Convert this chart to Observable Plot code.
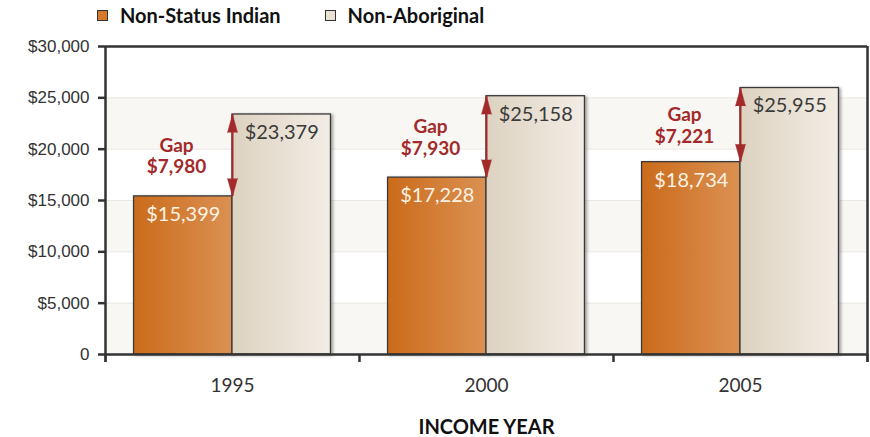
<!DOCTYPE html>
<html>
<head>
<meta charset="utf-8">
<script src="https://cdn.jsdelivr.net/npm/d3@7"></script>
<script src="https://cdn.jsdelivr.net/npm/@observablehq/plot@0.6"></script>
<style>
  body { margin: 0; background: #fff; font-family: Lato, "Noto Sans", sans-serif; }
  #legend { height: 30px; display: flex; align-items: center; padding-left: 97px; font-weight: bold; font-size: 20px; color: #111; }
  #legend .item { display: flex; align-items: center; margin-right: 44px; }
  #legend .sw { width: 9px; height: 9px; border: 1px solid #333; margin-right: 12px; }
  #chart svg { overflow: visible; }
  g[aria-label="fx-axis label"] text { font-weight: bold; fill: #111; }
  .bars rect { filter: drop-shadow(2px 1px 1.5px rgba(0,0,0,0.35)); }
</style>
</head>
<body>
<div id="legend"></div>
<div id="chart"></div>
<script>
// ---- data ----
const years = ["1995", "2000", "2005"];
const seriesNames = ["Non-Status Indian", "Non-Aboriginal"];
const nonStatusIndian = [15399, 17228, 18734];
const nonAboriginal = [23379, 25158, 25955];
const gapValues = [7980, 7930, 7221];
const yTicks = [0, 5000, 10000, 15000, 20000, 25000, 30000];
const xAxisTitle = "INCOME YEAR";

const seriesColors = ["#d47a2a", "#e8e0d2"];
const gradStops = [["#cb6b1b", "#db9152"], ["#ddd2c0", "#f2ede5"]];

// rows built from the arrays above
const rows = [];
years.forEach((y, k) => {
  rows.push({year: y, series: seriesNames[0], i: 0, value: nonStatusIndian[k]});
  rows.push({year: y, series: seriesNames[1], i: 1, value: nonAboriginal[k]});
});
const gapRows = years.map((y, k) => ({year: y, lo: nonStatusIndian[k], hi: nonAboriginal[k], gap: gapValues[k], edge: 1}));
const bands = yTicks.slice(0, -1).map((t, k) => ({y1: t, y2: yTicks[k + 1], k})).filter(d => d.k % 2 === 0);

// legend
const legend = d3.select("#legend");
seriesNames.forEach((s, k) => {
  const it = legend.append("div").attr("class", "item");
  it.append("div").attr("class", "sw").style("background", seriesColors[k]);
  it.append("span").text(s);
});

const fmt = d3.format(",");
const money = d => "$" + fmt(d);
const xpad = 0.29;
const red = "#a32a2a";
const yMax = yTicks[yTicks.length - 1];
const edges = [
  {year: years[0], x: -xpad},
  {year: years[years.length - 1], x: 2 + xpad}
];

const chart = Plot.plot({
  width: 870,
  height: 407,
  marginTop: 16,
  marginBottom: 83,
  marginLeft: 104,
  marginRight: 3,
  style: {fontFamily: "Lato, sans-serif", color: "#333", background: "transparent"},
  fx: {domain: years, padding: 0, label: null},
  x: {domain: [-xpad, 2 + xpad], axis: null},
  y: {domain: [0, yMax], label: null},
  marks: [
    Plot.rectY(bands, {y1: "y1", y2: "y2", fill: "#f9f7f4"}),
    Plot.gridY(yTicks, {stroke: "#ebe7e1", strokeOpacity: 1}),
    Plot.rect(rows.filter(d => d.i === 0), {fx: "year", x1: "i", x2: d => d.i + 1, y1: () => 0, y2: "value", fill: "url(#g0)", stroke: "#3a3a3a", strokeWidth: 1.3, className: "bars"}),
    Plot.rect(rows.filter(d => d.i === 1), {fx: "year", x1: "i", x2: d => d.i + 1, y1: () => 0, y2: "value", fill: "url(#g1)", stroke: "#3a3a3a", strokeWidth: 1.3, className: "bars"}),
    Plot.text(rows, {fx: "year", x: d => d.i + 0.5, y: "value", dy: 18, text: d => money(d.value), fill: d => d.i === 0 ? "#fdf3e6" : "#3a3a3a", fontSize: 20, letterSpacing: 1}),
    Plot.ruleX(gapRows, {fx: "year", x: "edge", y1: "lo", y2: "hi", stroke: red, strokeWidth: 2}),
    Plot.vector(gapRows, {fx: "year", x: "edge", y: "hi", length: 18, r: 5, rotate: 0, anchor: "end", shape: "spike", fill: red, stroke: red, strokeWidth: 0.5}),
    Plot.vector(gapRows, {fx: "year", x: "edge", y: "lo", length: 18, r: 5, rotate: 180, anchor: "end", shape: "spike", fill: red, stroke: red, strokeWidth: 0.5}),
    Plot.text(gapRows, {fx: "year", x: "edge", y: d => (d.lo + d.hi) / 2, dx: -56, text: d => "Gap\n" + money(d.gap), fill: red, fontWeight: "bold", fontSize: 19, lineHeight: 1.15}),
    Plot.ruleY([0, yMax], {stroke: "#333", strokeWidth: 2.5}),
    Plot.axisY({anchor: "left", ticks: yTicks, tickFormat: d => d === 0 ? "0" : money(d), tickSize: 7, tickPadding: 9, fontSize: 17, strokeWidth: 2.5, label: null, fontFamily: "Liberation Sans, Arial, sans-serif"}),
    Plot.axisX({ticks: [-xpad, 2 + xpad], tickFormat: () => "", tickSize: 8, strokeWidth: 2, label: null}),
    Plot.axisFx({anchor: "bottom", tickSize: 0, tickPadding: 24, fontSize: 19, label: null}),
    Plot.axisFx({anchor: "bottom", ticks: [], label: xAxisTitle, labelAnchor: "center", labelOffset: 79, fontSize: 20}),
    Plot.ruleX(edges, {fx: "year", x: "x", y1: () => yMax, y2: () => 0, stroke: "#333", strokeWidth: 2.5, insetBottom: -8})
  ]
});

document.getElementById("chart").appendChild(chart);

// horizontal gradients for the bars
const svg = d3.select(chart);
const defs = svg.insert("defs", ":first-child");
gradStops.forEach((st, k) => {
  const g = defs.append("linearGradient").attr("id", "g" + k).attr("x1", "0").attr("x2", "1").attr("y1", "0").attr("y2", "0");
  g.append("stop").attr("offset", "0").attr("stop-color", st[0]);
  g.append("stop").attr("offset", "1").attr("stop-color", st[1]);
});
</script>
</body>
</html>
